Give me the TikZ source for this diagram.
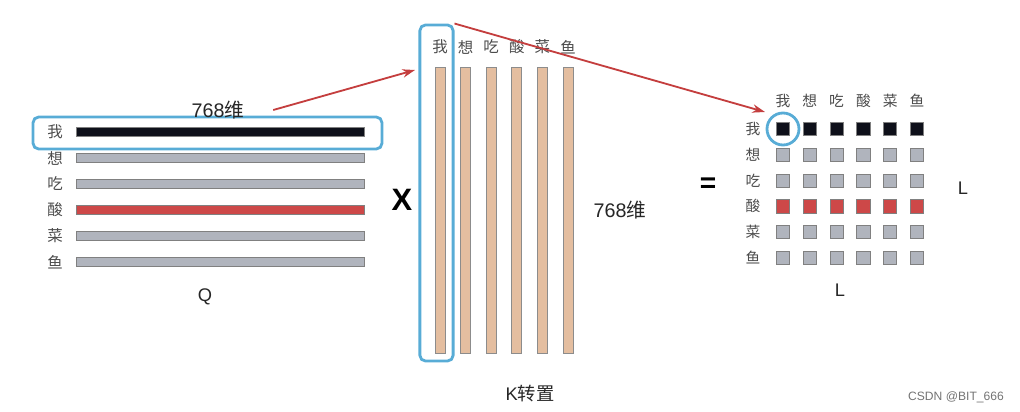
\documentclass[tikz,border=0pt]{standalone}
\usepackage{fontspec}
\setmainfont{Liberation Sans}
\newfontfamily\cjk{Noto Sans CJK SC}
\usetikzlibrary{arrows.meta,positioning}
\definecolor{hiblue}{RGB}{88,172,214}
\definecolor{qblack}{RGB}{14,16,26}
\definecolor{qgray}{RGB}{176,180,189}
\definecolor{qred}{RGB}{205,72,72}
\definecolor{ktan}{RGB}{228,190,160}
\definecolor{arrred}{RGB}{196,62,62}

\begin{document}
\begin{tikzpicture}[x=0.025cm, y=-0.025cm,
      word/.style={font=\cjk\fontsize{11}{13}\selectfont, text=black!70, inner sep=0pt},
      smallword/.style={word, font=\cjk\fontsize{10.5}{12}\selectfont},
      qbar/.style={draw=black!50, line width=0.5pt, minimum width=7.2cm, minimum height=0.24cm, inner sep=0pt},
      kcol/.style={draw=black!45, fill=ktan, line width=0.5pt, minimum width=0.25cm, minimum height=7.15cm, inner sep=0pt},
      cell/.style={draw=black!50, line width=0.5pt, minimum size=0.33cm, inner sep=0pt},
      hibox/.style={draw=hiblue, line width=2pt, rounded corners=4pt, inner sep=0pt},
      redarr/.style={-{Stealth[length=9pt,width=6pt]}, draw=arrred, line width=1.3pt},
      dimlabel/.style={font=\fontsize{14}{16}\selectfont, text=black!85},
      axislabel/.style={font=\fontsize{13}{15}\selectfont, text=black!85}
    ]
      \useasboundingbox (0,0) rectangle (1020,412);

      % Q
      \foreach \w/\c [count=\i] in {我/qblack,想/qgray,吃/qgray,酸/qred,菜/qgray,鱼/qgray} {
        \node[word] (qw\i) at (55,{132+26*(\i-1)}) {\w};
        \node[qbar, fill=\c] (qbar\i) at (220,{132+26*(\i-1)}) {};
      }
      \node[hibox, minimum width=8.72cm, minimum height=0.8cm] (qbox) at (207.5,133) {};
      \node[dimlabel] (qdim) at (218,110) {768{\cjk 维}};
      \node[axislabel] (qname) at (205,297) {Q};

      \node[font=\bfseries\fontsize{22}{24}\selectfont] (times) at (402,200) {X};

      % K transposed
      \foreach \w [count=\i] in {我,想,吃,酸,菜,鱼} {
        \node[word] (kw\i) at ({440+25.6*(\i-1)},47) {\w};
        \node[kcol] (kcol\i) at ({440+25.6*(\i-1)},210) {};
      }
      \node[hibox, minimum width=0.83cm, minimum height=8.4cm] (kbox) at (436.5,193) {};
      \node[dimlabel] (kdim) at (620,210) {768{\cjk 维}};
      \node[axislabel] (kname) at (530,394) {K{\cjk 转置}};

      \node[font=\bfseries\fontsize{20}{22}\selectfont] (eq) at (708,185) {=};

      % L x L scores
      \foreach \w/\c [count=\i] in {我/qblack,想/qgray,吃/qgray,酸/qred,菜/qgray,鱼/qgray} {
        \node[smallword] (rw\i) at (753,{129+25.8*(\i-1)}) {\w};
        \node[smallword] (cw\i) at ({783+26.8*(\i-1)},101) {\w};
        \foreach \j in {1,...,6}
          \node[cell, fill=\c] (m\i\j) at ({783+26.8*(\j-1)},{129+25.8*(\i-1)}) {};
      }
      \node[draw=hiblue, line width=2pt, circle, minimum size=0.8cm, inner sep=0pt] (hicirc) at (m11) {};
      \node[axislabel] (lright) at (963,188) {L};
      \node[axislabel] (lbottom) at (840,290) {L};

      \coordinate (a1end) at (415,70);
      \coordinate (a2end) at (765,112);
      \draw[redarr] ([xshift=0.6cm]qdim.east) -- (a1end);
      \draw[redarr] (kbox.north east) -- (a2end);

      \node[font=\fontsize{8.6}{10}\selectfont, text=black!55] (mark) at (956,397) {CSDN @BIT\_666};
    \end{tikzpicture}
\end{document}
